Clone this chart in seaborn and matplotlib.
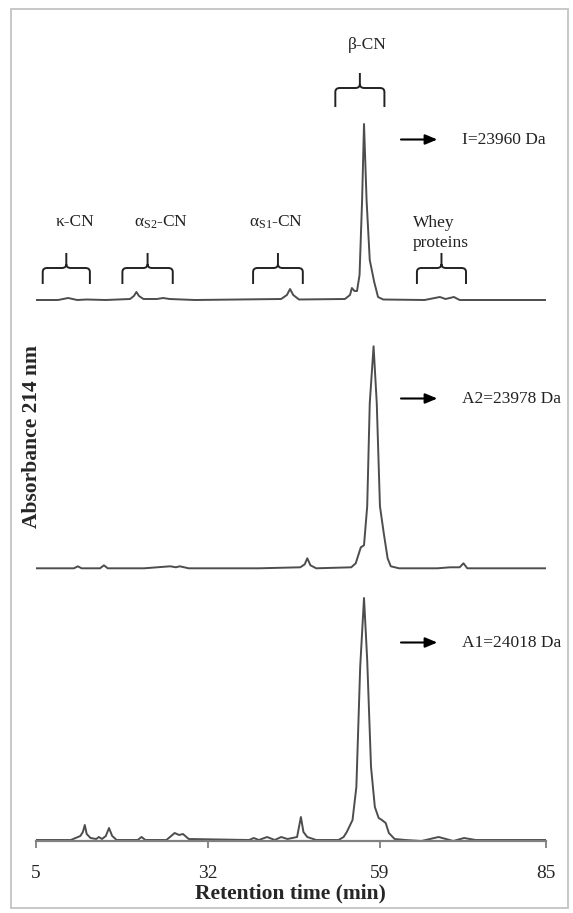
import numpy as np
import pandas as pd
import matplotlib
matplotlib.use("Agg")
import matplotlib.pyplot as plt
from matplotlib.patches import Rectangle, PathPatch
from matplotlib.path import Path
import seaborn as sns

# ---------------- data ----------------
# Retention time (min) and absorbance (arbitrary units) per sample
time_I = [5, 8.5, 10.1, 11.5, 13, 16, 19.8, 20.4, 20.8, 21.2, 21.9, 24, 25, 26, 30,
          43.5, 44.4, 44.9, 45.4, 46.3, 53.5, 54.3, 54.6, 55.0, 55.4, 55.8, 56.2, 56.5,
          56.9, 57.4, 58.1, 58.7, 59.5, 66, 68.4, 69.3, 70.6, 71.5, 85]
abs_I = [0, 0, 2, 0, 0.5, 0, 1, 4, 8, 4, 1, 1, 2, 1, 0,
         1, 5, 11, 5, 0.5, 1, 5, 12, 9, 9, 25, 100, 176,
         100, 40, 18, 3, 0.5, 0, 3, 1, 3, 0, 0]

time_A2 = [5, 11.0, 11.6, 12.2, 15.1, 15.7, 16.3, 22, 26.1, 27.0, 27.6, 29, 40, 46.5,
           47.2, 47.6, 48.1, 49, 54.5, 55.2, 56.0, 56.5, 57.0, 57.4, 58.0, 58.5, 59.0,
           59.6, 60.2, 60.7, 62, 68, 70, 71.5, 72.1, 72.7, 85]
abs_A2 = [0, 0, 2, 0, 0, 3, 0, 0, 2, 1, 2, 0, 0, 1,
          4, 10, 3, 0, 1, 5, 21, 23, 62, 165, 222, 165, 62,
          35, 10, 2, 0, 0, 1, 1, 5, 0, 0]

time_A1 = [5, 10.5, 12.0, 12.4, 12.7, 13.0, 13.6, 14.5, 14.9, 15.4, 16.0, 16.5, 17.0,
           17.7, 21.0, 21.6, 22.2, 25.5, 26.8, 27.5, 28.1, 29.0, 38.5, 39.2, 40.0, 41.3,
           42.5, 43.5, 44.5, 46.0, 46.6, 47.0, 47.6, 49.0, 52.5, 53.3, 53.8, 54.7, 55.3,
           55.9, 56.5, 57.0, 57.6, 58.2, 58.8, 59.3, 59.9, 60.4, 61.3, 63, 65.5, 68.2,
           70.5, 72.2, 74, 85]
abs_A1 = [0, 0, 4, 8, 15, 6, 2, 1, 3, 1, 4, 12, 4,
          0, 0, 3, 0, 0, 7, 5, 6, 1, 0, 2, 0, 3,
          0, 3, 1, 3, 23, 8, 3, 0, 0, 3, 8, 20, 53,
          173, 242, 180, 73, 33, 22, 20, 17, 7, 1, 0, -1, 3,
          -1, 2, 0, 0]

samples = ["I", "A2", "A1"]
sample_labels = ["I=23960 Da", "A2=23978 Da", "A1=24018 Da"]
stack_offsets = [541, 272.7, 1]          # vertical stacking of the traces

fraction_names = ["κ-CN", r"α$_{\mathregular{S2}}$-CN", r"α$_{\mathregular{S1}}$-CN",
                  "β-CN", "Whey\nproteins"]
fraction_start = [6.1, 18.6, 39.1, 52.0, 64.8]
fraction_end = [13.5, 26.5, 46.9, 59.7, 72.5]

x_ticks = [5, 32, 59, 85]

# ---------------- build table ----------------
frames = []
for name, t, a, off in zip(samples, [time_I, time_A2, time_A1],
                           [abs_I, abs_A2, abs_A1], stack_offsets):
    frames.append(pd.DataFrame({"time": t, "absorbance": np.array(a, float) + off,
                                "sample": name}))
df = pd.concat(frames, ignore_index=True)

# ---------------- style ----------------
sns.set_theme(style="white")
plt.rcParams["font.family"] = ["Liberation Serif", "DejaVu Serif"]
plt.rcParams["mathtext.fontset"] = "custom"
plt.rcParams["mathtext.rm"] = "Liberation Serif"
plt.rcParams["mathtext.it"] = "Liberation Serif:italic"
plt.rcParams["mathtext.bf"] = "Liberation Serif:bold"

W, H = 573, 913
fig = plt.figure(figsize=(W / 100, H / 100), dpi=100)
fig.patch.set_facecolor("white")

# outer frame
fig.add_artist(Rectangle((11 / W, 1 - 908 / H), (568 - 11) / W, (908 - 9) / H,
                         transform=fig.transFigure, fill=False,
                         edgecolor="#c4c4c4", lw=1.3))

ax_bottom_px, ax_top_px = 841, 20
ax = fig.add_axes([35.7 / W, 1 - ax_bottom_px / H, 510 / W,
                   (ax_bottom_px - ax_top_px) / H])
ax.set_facecolor("none")

line_color = "#4d4d4d"
sns.lineplot(data=df, x="time", y="absorbance", hue="sample", units="sample",
             estimator=None, sort=False, palette=[line_color] * 3, lw=1.4,
             legend=False, ax=ax)

ax.set_xlim(5, 85)
ax.set_ylim(0, ax_bottom_px - ax_top_px)
for s in ["left", "top", "right"]:
    ax.spines[s].set_visible(False)
ax.spines["bottom"].set_color("#808080")
ax.spines["bottom"].set_linewidth(1.6)
ax.set_yticks([])
ax.set_xticks(x_ticks)
ax.set_xticklabels([str(v) for v in x_ticks])
ax.tick_params(axis="x", direction="out", length=5, width=1.3, color="#808080",
               labelsize=14, pad=12, bottom=True)
ax.set_xlabel("Retention time (min)", fontsize=15.5, fontweight="bold", labelpad=1.5)
ax.set_ylabel("")

fig.text(32 / W, 1 - 437 / H, "Absorbance 214 nm", rotation=90, ha="center",
         va="center", fontsize=15.5, fontweight="bold")

# ---------------- brackets and fraction labels ----------------
def bracket(x0, x1, y_end, y_top, y_tip):
    rx, ry = 0.7, 4
    xc = (x0 + x1) / 2
    verts = [(x0, y_end), (x0, y_top - ry), (x0, y_top), (x0 + rx, y_top),
             (xc - rx, y_top), (xc, y_top), (xc, y_top + ry), (xc, y_tip),
             (xc, y_top + ry), (xc, y_top), (xc + rx, y_top),
             (x1 - rx, y_top), (x1, y_top), (x1, y_top - ry), (x1, y_end)]
    codes = [Path.MOVETO, Path.LINETO, Path.CURVE3, Path.CURVE3,
             Path.LINETO, Path.CURVE3, Path.CURVE3, Path.LINETO,
             Path.MOVETO, Path.CURVE3, Path.CURVE3,
             Path.LINETO, Path.CURVE3, Path.CURVE3, Path.LINETO]
    ax.add_patch(PathPatch(Path(verts, codes), fill=False, edgecolor="#222222",
                           lw=1.4, clip_on=False))

def py(px):  # figure pixel row -> data y
    return ax_bottom_px - px

for i, (name, a, b) in enumerate(zip(fraction_names, fraction_start, fraction_end)):
    if name == "β-CN":
        bracket(a, b, py(107), py(88), py(73))
        ax.text(57.0, py(45), name, ha="center", va="center", fontsize=12.5,
                color="#222222")
    else:
        bracket(a, b, py(284), py(268), py(253))
        if name.startswith("Whey"):
            ax.text(64.2, py(233), name, ha="left", va="center", fontsize=12.5,
                    color="#222222", linespacing=1.35)
        else:
            xc_lab = {0: 11.2, 1: 24.6, 2: 42.7}[i]
            ax.text(xc_lab, py(222), name, ha="center", va="center",
                    fontsize=12.5, color="#222222")

# ---------------- arrows with molecular masses ----------------
arrow_rows = [139.5, 398.5, 642.5]
for lab, row in zip(sample_labels, arrow_rows):
    yy = py(row)
    ax.annotate("", xy=(68.0, yy), xytext=(62.3, yy),
                arrowprops=dict(arrowstyle="-|>,head_length=0.6,head_width=0.25",
                                color="black", lw=1.5, shrinkA=0, shrinkB=0))
    ax.text(71.9, yy, lab, ha="left", va="center", fontsize=12.5, color="#222222")

fig.savefig("out.png", dpi=100, facecolor="white")
